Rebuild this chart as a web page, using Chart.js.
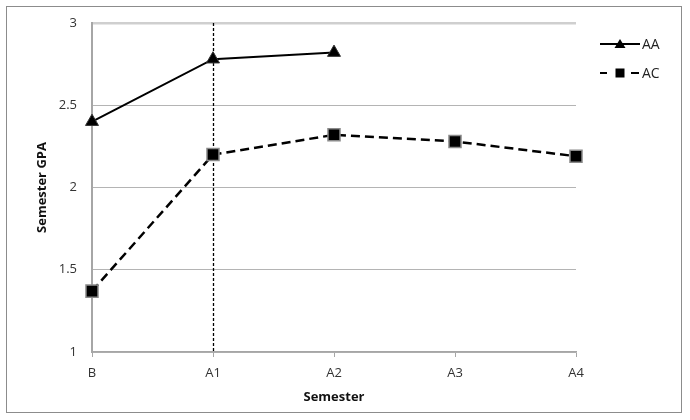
<!DOCTYPE html>
<html>
<head>
<meta charset="utf-8">
<script src="https://cdn.jsdelivr.net/npm/chart.js@4"></script>
<style>
  body { margin: 0; background: #fff; }
</style>
</head>
<body>
<canvas id="myChart" width="690" height="420"></canvas>
<script>
const semesters = ["B", "A1", "A2", "A3", "A4"];
const aaValues = [2.4, 2.78, 2.82, null, null];
const acValues = [1.37, 2.2, 2.32, 2.28, 2.19];
const yTicks = [1, 1.5, 2, 2.5, 3];
const markerSemester = "A1";

const fontFamily = "'Open Sans', 'Liberation Sans', sans-serif";

// frame around the whole picture + white background
const framePlugin = {
  id: "frame",
  beforeDraw(chart) {
    const ctx = chart.ctx;
    ctx.save();
    ctx.fillStyle = "#fff";
    ctx.fillRect(0, 0, chart.width, chart.height);
    ctx.strokeStyle = "#8c8c8c";
    ctx.lineWidth = 1;
    ctx.strokeRect(6.5, 6.5, 675, 406);
    ctx.restore();
  },
};

// dashed vertical line at A1, drawn from the scales
const vlinePlugin = {
  id: "vline",
  beforeDatasetsDraw(chart) {
    const { ctx, scales } = chart;
    const x = Math.round(scales.x.getPixelForValue(semesters.indexOf(markerSemester))) + 0.5;
    ctx.save();
    ctx.strokeStyle = "#000";
    ctx.lineWidth = 1.3;
    ctx.setLineDash([3, 2]);
    ctx.beginPath();
    ctx.moveTo(x, scales.y.getPixelForValue(3));
    ctx.lineTo(x, scales.y.getPixelForValue(1));
    ctx.stroke();
    ctx.restore();
  },
};

// legend on the right with line + marker, like the original
const legendPlugin = {
  id: "sideLegend",
  afterDraw(chart) {
    const ctx = chart.ctx;
    ctx.save();
    ctx.font = "14px " + fontFamily;
    ctx.textBaseline = "middle";
    chart.data.datasets.forEach((ds, i) => {
      const y = 44 + i * 29;
      ctx.strokeStyle = "#000";
      ctx.lineWidth = 2;
      ctx.beginPath();
      if (ds.borderDash) {
        ctx.moveTo(600, y); ctx.lineTo(607, y);
        ctx.moveTo(631, y); ctx.lineTo(639, y);
      } else {
        ctx.moveTo(600, y); ctx.lineTo(640, y);
      }
      ctx.stroke();
      ctx.fillStyle = "#000";
      if (ds.pointStyle === "triangle") {
        ctx.beginPath();
        ctx.moveTo(620, y - 5);
        ctx.lineTo(625.5, y + 4);
        ctx.lineTo(614.5, y + 4);
        ctx.closePath();
        ctx.fill();
      } else {
        ctx.fillRect(615.5, y - 4.5, 9, 9);
      }
      ctx.fillStyle = "#222";
      ctx.fillText(ds.label, 642, y + 1);
    });
    ctx.restore();
  },
};

const ctx = document.getElementById("myChart").getContext("2d");
new Chart(ctx, {
  type: "line",
  data: {
    labels: semesters,
    datasets: [
      {
        label: "AA",
        data: aaValues,
        borderColor: "#000",
        backgroundColor: "#000",
        borderWidth: 2,
        pointStyle: "triangle",
        pointRadius: 7.5,
        pointBorderColor: "#333",
        pointBorderWidth: 1,
        tension: 0,
        spanGaps: false,
      },
      {
        label: "AC",
        data: acValues,
        borderColor: "#000",
        backgroundColor: "#000",
        borderWidth: 2.5,
        borderDash: [9, 5],
        pointStyle: "rect",
        pointRadius: 8.5,
        pointBorderColor: "#8a8a8a",
        pointBorderWidth: 1.5,
        tension: 0,
      },
    ],
  },
  options: {
    responsive: false,
    animation: false,
    layout: { padding: { left: 0, top: 23, right: 114, bottom: 15 } },
    scales: {
      x: {
        offset: false,
        afterFit: (s) => { s.height = 53; },
        grid: { drawOnChartArea: false, drawTicks: true, tickLength: 5, color: "#a6a6a6" },
        border: { color: "#a6a6a6", width: 1.5 },
        ticks: { padding: 8, color: "#333", font: { family: fontFamily, size: 13 } },
        title: {
          display: true,
          text: "Semester",
          color: "#111",
          font: { family: fontFamily, size: 13, weight: "bold" },
          padding: { top: 4, bottom: 0 },
        },
      },
      y: {
        min: 1,
        max: 3,
        afterFit: (s) => { s.width = 92; },
        afterBuildTicks: (s) => { s.ticks = yTicks.map((v) => ({ value: v })); },
        grid: {
          drawTicks: false,
          color: (c) => (c.tick && c.tick.value === 3 ? "#cfcfcf" : "#b4b4b4"),
          lineWidth: (c) => (c.tick && c.tick.value === 3 ? 2.5 : 1),
        },
        border: { color: "#a6a6a6", width: 2 },
        ticks: {
          padding: 15,
          color: "#333",
          font: { family: fontFamily, size: 13 },
          callback: (v) => String(v),
        },
        title: {
          display: true,
          text: "Semester GPA",
          color: "#111",
          font: { family: fontFamily, size: 13, weight: "bold" },
          padding: { top: 34, bottom: 0 },
        },
      },
    },
    plugins: {
      legend: { display: false },
      tooltip: { enabled: false },
    },
  },
  plugins: [framePlugin, vlinePlugin, legendPlugin],
});
</script>
</body>
</html>
